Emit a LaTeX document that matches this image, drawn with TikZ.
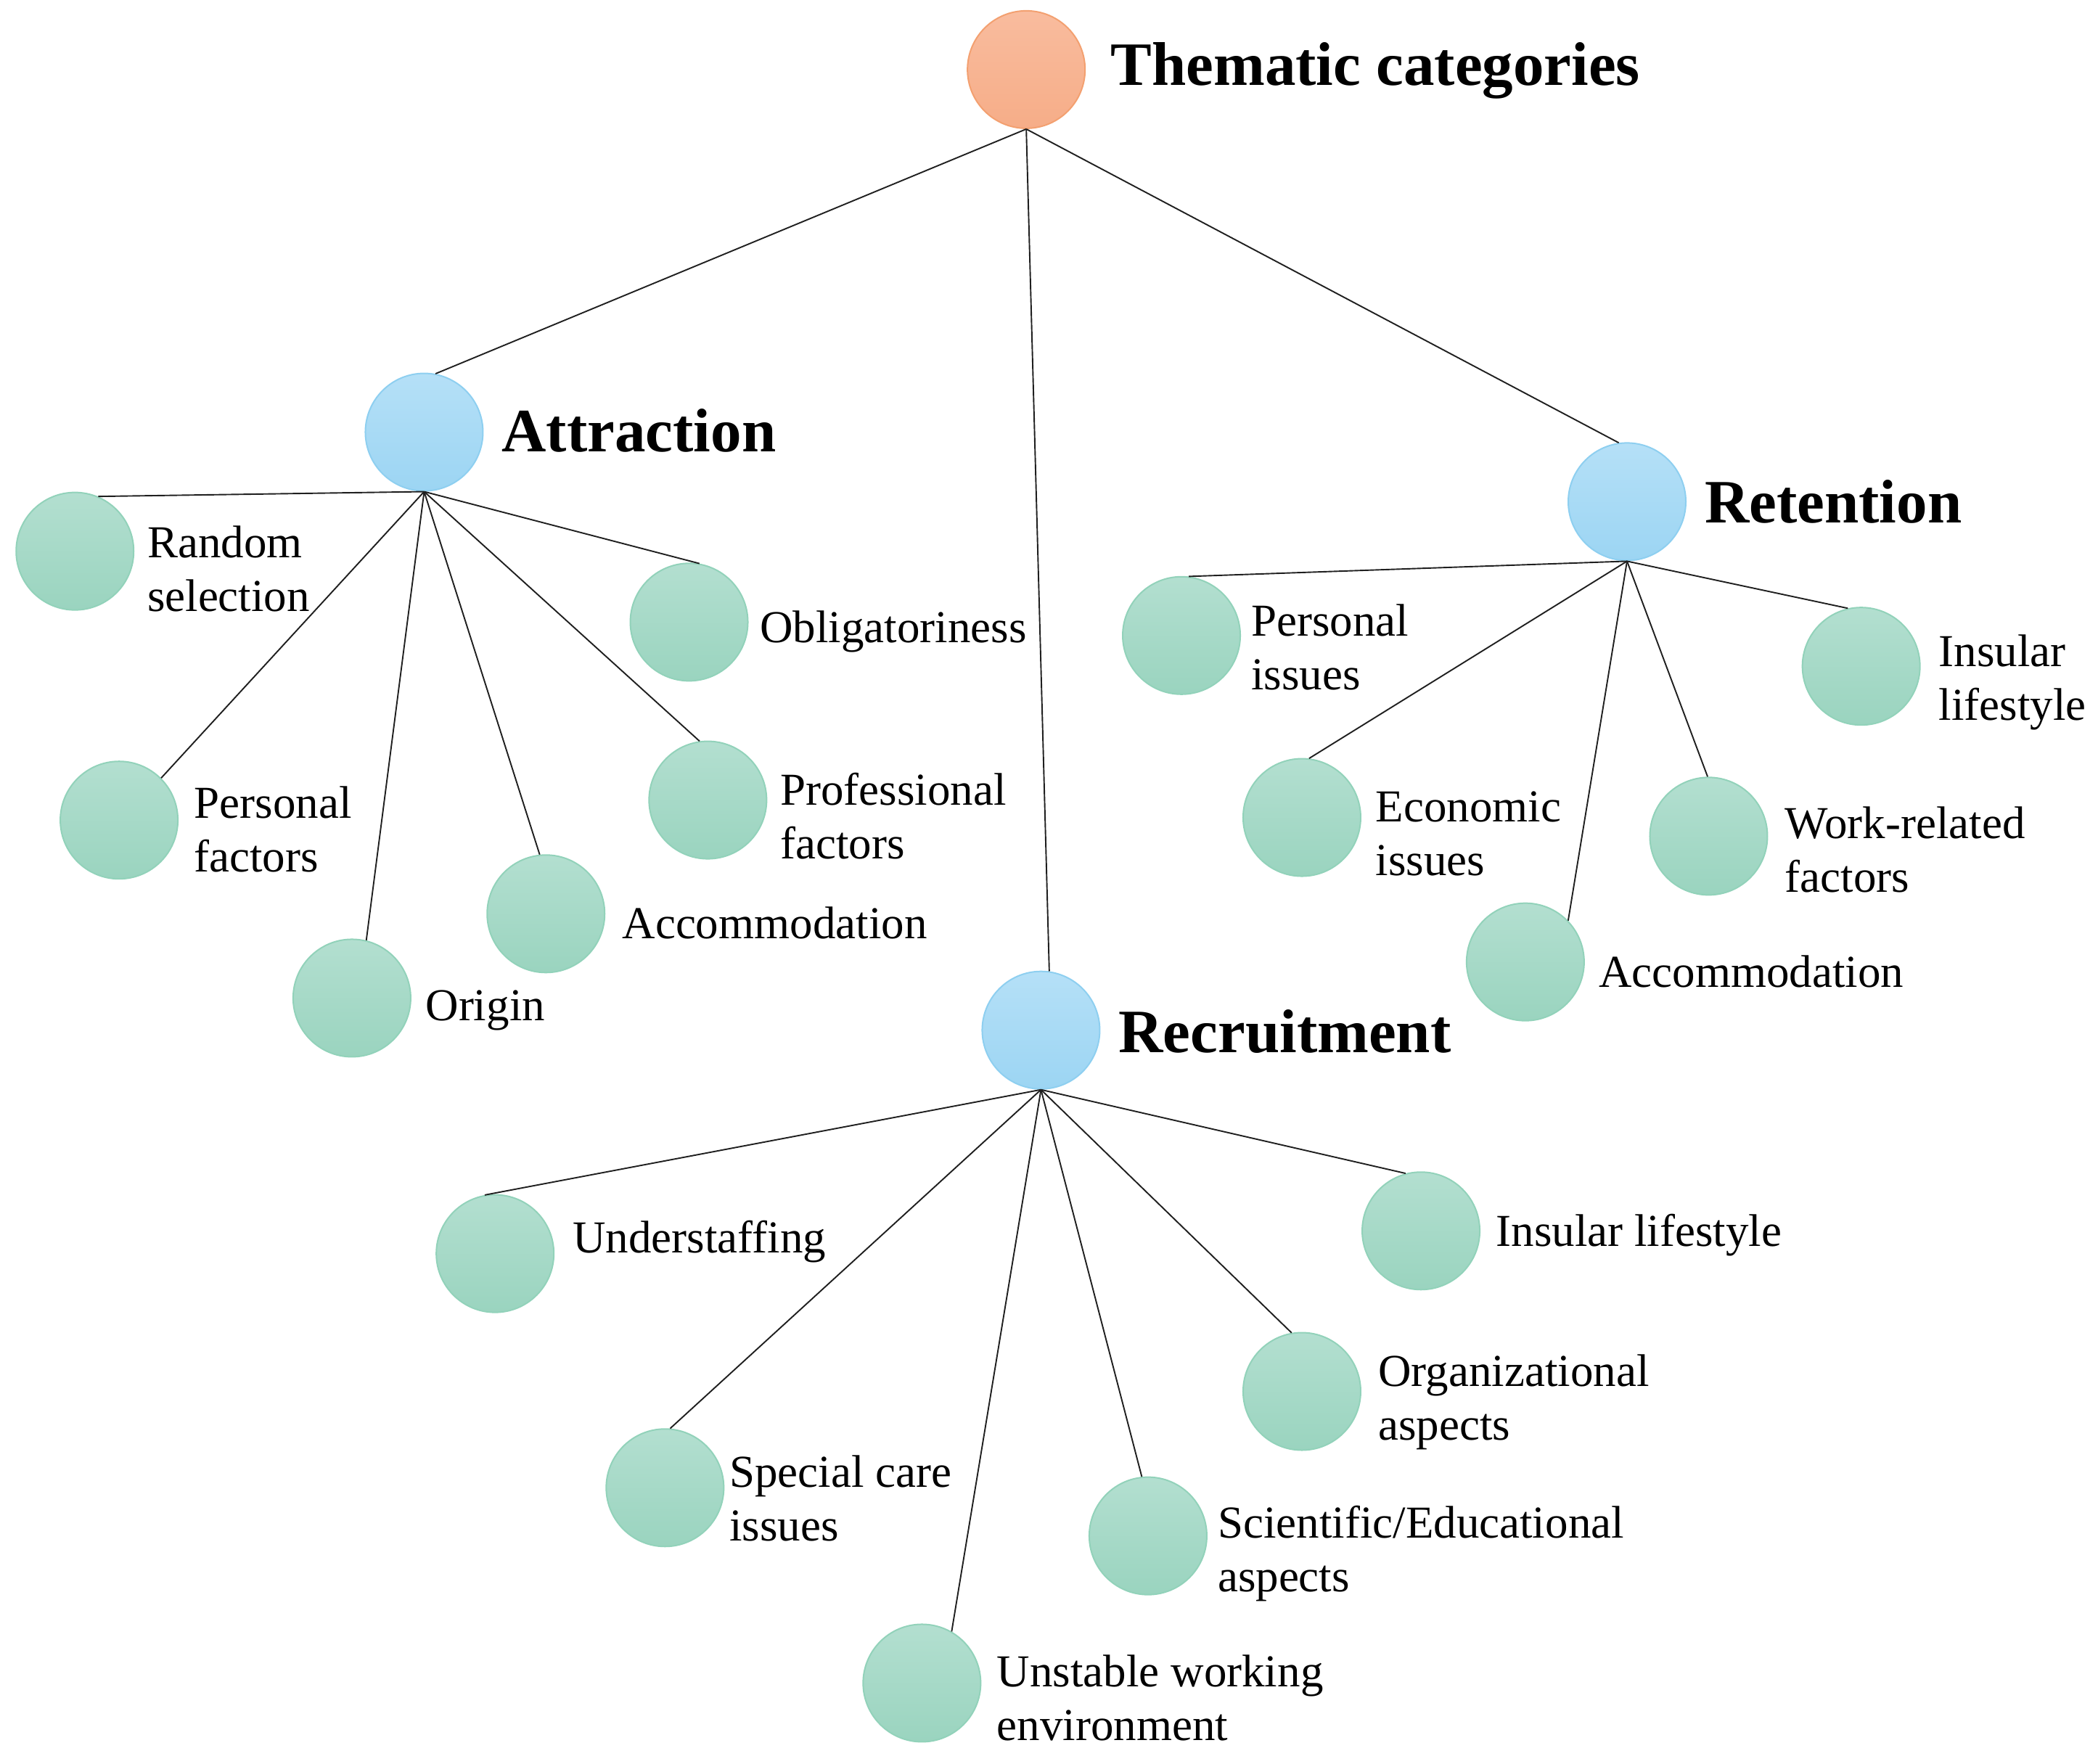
\documentclass[tikz,border=0pt]{standalone}
\usepackage{fontspec}
\setmainfont{Liberation Serif}
\definecolor{gT}{HTML}{B3DFD0}
\definecolor{gB}{HTML}{9AD4BF}
\definecolor{gD}{HTML}{92D2BA}
\definecolor{bT}{HTML}{B5E0F7}
\definecolor{bB}{HTML}{9CD5F3}
\definecolor{bD}{HTML}{8ECFF0}
\definecolor{oT}{HTML}{F9BC9E}
\definecolor{oB}{HTML}{F6AD88}
\definecolor{oD}{HTML}{F3A070}
\begin{document}
\begin{tikzpicture}[x=1.8437pt,y=-1.8437pt,
  leaf/.style={circle, inner sep=0pt, minimum size=162pt, draw=gD, line width=2pt, top color=gT, bottom color=gB},
  catc/.style={circle, inner sep=0pt, minimum size=162pt, draw=bD, line width=2pt, top color=bT, bottom color=bB},
  rootc/.style={circle, inner sep=0pt, minimum size=162pt, draw=oD, line width=2pt, top color=oT, bottom color=oB},
  lab/.style={anchor=west, inner sep=0pt, align=left, font=\fontsize{63}{74}\selectfont},
  ttl/.style={anchor=west, inner sep=0pt, font=\fontsize{85}{100}\selectfont\bfseries},
  link/.style={line width=1.9pt, black!88}]
\useasboundingbox (0,0) rectangle (1568,1318.5);
% top level
\node[rootc] (root) at (767,52) {};
\node[ttl] (rootl) at (830,53) {Thematic categories};
\node[catc] (att) at (317,323) {};
\node[ttl] (attl) at (375,322) {Attraction};
\node[catc] (ret) at (1216,375) {};
\node[ttl] (retl) at (1274,375) {Retention};
\node[catc] (rec) at (778,770) {};
\node[ttl] (recl) at (836,771) {Recruitment};
% attraction leaves
\node[leaf] (rand) at (56,412) {};
\node[lab] (randl) at (110,425) {Random\\selection};
\node[leaf] (pers) at (89,613) {};
\node[lab] (persl) at (145,620) {Personal\\factors};
\node[leaf] (orig) at (263,746) {};
\node[lab] (origl) at (318,755) {Origin};
\node[leaf] (accA) at (408,683) {};
\node[lab] (accAl) at (465,690) {Accommodation};
\node[leaf] (prof) at (529,598) {};
\node[lab] (profl) at (583,610) {Professional\\factors};
\node[leaf] (obl) at (515,465) {};
\node[lab] (obll) at (568,472) {Obligatoriness};
% retention leaves
\node[leaf] (piss) at (883,475) {};
\node[lab] (pissl) at (935,484) {Personal\\issues};
\node[leaf] (insR) at (1391,498) {};
\node[lab] (insRl) at (1449,510) {Insular\\lifestyle};
\node[leaf] (econ) at (973,611) {};
\node[lab] (econl) at (1028,623) {Economic\\issues};
\node[leaf] (accR) at (1140,719) {};
\node[lab] (accRl) at (1195,726) {Accommodation};
\node[leaf] (work) at (1277,625) {};
\node[lab] (workl) at (1334,635) {Work-related\\factors};
% recruitment leaves
\node[leaf] (under) at (370,937) {};
\node[lab] (underl) at (428,928) {Understaffing};
\node[leaf] (insC) at (1062,920) {};
\node[lab] (insCl) at (1118,923) {Insular lifestyle};
\node[leaf] (org) at (973,1040) {};
\node[lab] (orgl) at (1030,1048) {Organizational\\aspects};
\node[leaf] (spec) at (497,1112) {};
\node[lab] (specl) at (545,1120) {Special care\\issues};
\node[leaf] (sci) at (858,1148) {};
\node[lab] (scil) at (910,1161) {Scientific/Educational\\aspects};
\node[leaf] (unst) at (689,1258) {};
\node[lab] (unstl) at (745,1269) {Unstable working\\environment};
% connectors
\draw[link] (root.south) -- (att.79);
\draw[link] (root.south) -- (ret.98);
\draw[link] (root.south) -- (rec.82);
\draw[link] (att.south) -- (rand.67);
\draw[link] (att.south) -- (pers.45);
\draw[link] (att.south) -- (orig.76);
\draw[link] (att.south) -- (accA.96);
\draw[link] (att.south) -- (prof.98);
\draw[link] (att.south) -- (obl.80);
\draw[link] (ret.south) -- (piss.83);
\draw[link] (ret.south) -- (insR.103);
\draw[link] (ret.south) -- (econ.83);
\draw[link] (ret.south) -- (accR.44);
\draw[link] (ret.south) -- (work.91);
\draw[link] (rec.south) -- (under.100);
\draw[link] (rec.south) -- (insC.105);
\draw[link] (rec.south) -- (spec.85);
\draw[link] (rec.south) -- (unst.60);
\draw[link] (rec.south) -- (sci.96);
\draw[link] (rec.south) -- (org.100);
\end{tikzpicture}
\end{document}
